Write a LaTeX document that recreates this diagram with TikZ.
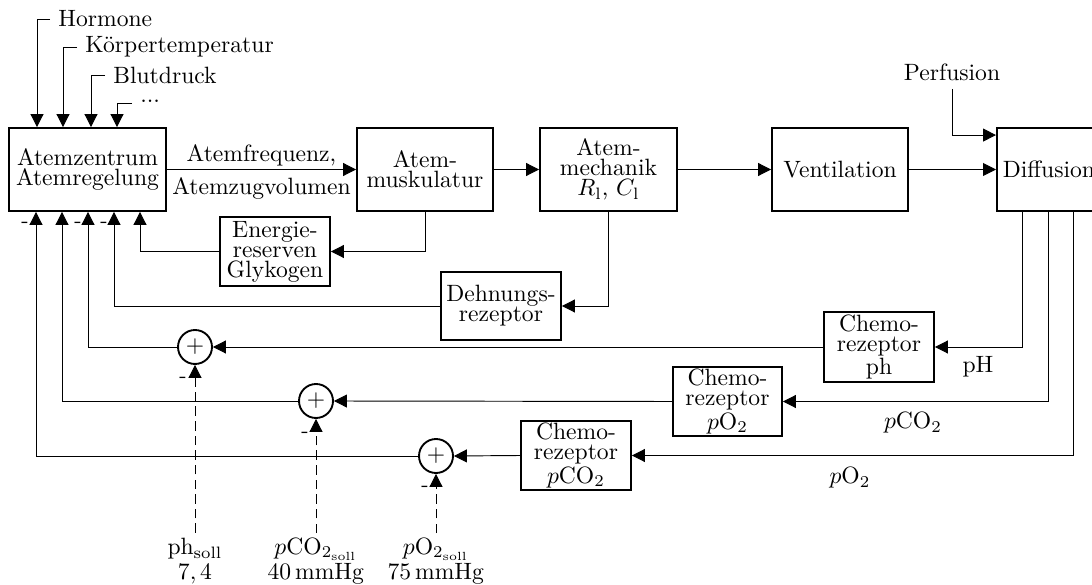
\documentclass[tikz,border=0pt]{standalone}
\usetikzlibrary{arrows.meta,calc}
\newcommand\PX{0.4237pt}
\begin{document}
\begin{tikzpicture}[x=0.4237pt,y=-0.4237pt,
  blk/.style={draw, line width=0.8pt, align=center, font=\fontsize{10}{8.5}\selectfont, inner sep=1pt},
  sz/.style 2 args={minimum width=#1*\PX, minimum height=#2*\PX},
  arr/.style={-{Triangle[length=5.5pt,width=5.5pt]}},
  sumc/.style={draw, circle, line width=0.8pt, minimum size=34*\PX, inner sep=0pt},
  lbl/.style={font=\fontsize{10}{10.5}\selectfont, align=center, inner sep=2pt},
  minus/.style={font=\small, inner sep=0pt},
  soll/.style={dash pattern=on 4pt off 2.2pt}
]
\useasboundingbox (0,0) rectangle (1092,585);

% main chain
\node[blk, sz={157}{83}] (az) at (87.5,169.5) {Atemzentrum\\Atemregelung};
\node[blk, sz={136}{83}] (am) at (425,169.5) {Atem-\\muskulatur};
\node[blk, sz={137}{83}] (amech) at (608.5,169.5) {Atem-\\mechanik\\$R_\mathrm{l}$, $C_\mathrm{l}$};
\node[blk, sz={136}{83}] (vent) at (840,169.5) {Ventilation};
\node[blk, minimum height=83*\PX, inner xsep=2.5pt, anchor=west] (diff) at (996,169.5) {Diffusion};

% secondary blocks
\node[blk, sz={110}{69}] (en) at (275,251.5) {Energie-\\reserven\\Glykogen};
\node[blk, sz={120}{68}] (dehn) at (501,306) {Dehnungs-\\rezeptor};
\node[blk, sz={110}{68}] (cph) at (879,347) {Chemo-\\rezeptor\\ph};
\node[blk, sz={109}{69}] (cpo) at (727.5,401.5) {Chemo-\\rezeptor\\$p$O$_2$};
\node[blk, sz={110}{69}] (cpco) at (576,455.5) {Chemo-\\rezeptor\\$p$CO$_2$};

% summing points
\node[sumc] (s1) at (195,347) {$+$};
\node[sumc] (s2) at (316,401) {$+$};
\node[sumc] (s3) at (436,456) {$+$};

% set points
\node[lbl] (sp1) at (195,561) {ph$_\mathrm{soll}$\\$7,4$};
\node[lbl] (sp2) at (316,561) {$p\mathrm{CO}_{2_\mathrm{soll}}$\\$40\,\mathrm{mmHg}$};
\node[lbl] (sp3) at (436,561) {$p\mathrm{O}_{2_\mathrm{soll}}$\\$75\,\mathrm{mmHg}$};

% inputs at top
\node[anchor=west] (hor) at (50,19) {Hormone};
\node[anchor=west] (kt) at (77,47) {Körpertemperatur};
\node[anchor=west] (bd) at (105,75) {Blutdruck};
\node[anchor=west, inner ysep=0pt] (dots) at (132,101) {...};
\node (perf) at (952,72) {Perfusion};

\draw[arr] (hor.west) -| (37,0 |- az.north);
\draw[arr] (kt.west) -| (63,0 |- az.north);
\draw[arr] (bd.west) -| (91,0 |- az.north);
\draw[arr] (dots.west |- 0,103) -| (117,0 |- az.north);
\draw[arr] (perf.south) |- ($(diff.north west)+(0,8)$);

% forward path
\draw[arr] (az) -- node[above, inner sep=1.2pt] (lf) {Atemfrequenz,} node[below] (lv) {Atemzugvolumen} (am);
\draw[arr] (am) -- (amech);
\draw[arr] (amech) -- (vent);
\draw[arr] (vent) -- (diff.west);

% feedback
\draw[arr] (am.south) |- (en.east);
\draw[arr] (en.west) -| (140,0 |- az.south);
\draw[arr] (amech.south) |- (dehn.east);
\draw[arr] (dehn.west) -| (114,0 |- az.south);

\draw[arr] (1022,0 |- diff.south) |- (cph.east);
\draw[arr] (1048,0 |- diff.south) |- (cpo.east);
\draw[arr] (1073,0 |- diff.south) |- (cpco.east);
\node (lph) at (978,367) {pH};
\node (lpco) at (913,423) {$p\mathrm{CO}_2$};
\node (lpo) at (850,478) {$p\mathrm{O}_2$};

\draw[arr] (cph.west) -- (s1.east);
\draw[arr] (cpo.west) -- (s2.east);
\draw[arr] (cpco.west) -- (s3.east);
\draw[arr] (s1.west) -| (88,0 |- az.south);
\draw[arr] (s2.west) -| (62,0 |- az.south);
\draw[arr] (s3.west) -| (36,0 |- az.south);

\draw[arr, soll] (sp1.north) -- (s1.south);
\draw[arr, soll] (sp2.north) -- (s2.south);
\draw[arr, soll] (sp3.north) -- (s3.south);

% minus signs
\node[minus] (m1) at (25,225) {-};
\node[minus] (m2) at (78,225) {-};
\node[minus] (m3) at (104,225) {-};
\node[minus] (m4) at (183,380) {-};
\node[minus] (m5) at (305,435) {-};
\node[minus] (m6) at (425,489) {-};
\end{tikzpicture}
\end{document}
